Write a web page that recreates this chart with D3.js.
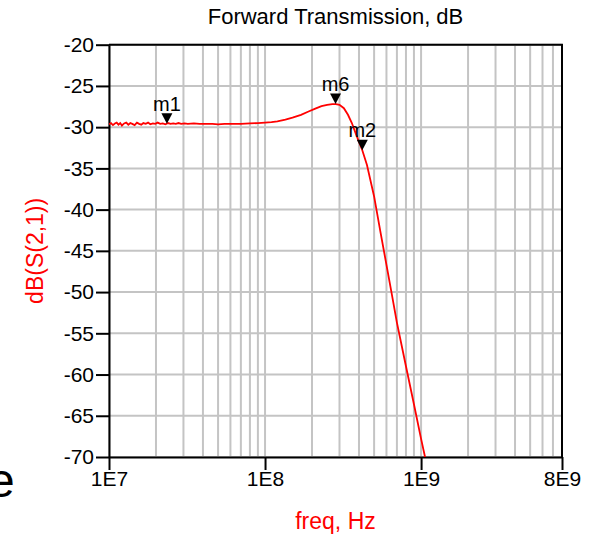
<!DOCTYPE html>
<html>
<head>
<meta charset="utf-8">
<script src="https://cdn.jsdelivr.net/npm/d3@7"></script>
<style>
  body { margin: 0; background: #fff; }
  svg { display: block; font-family: Arial, "Liberation Sans", sans-serif; }
  .grid line { stroke: #c4c4c4; stroke-width: 2; }
  .axis path, .axis line { stroke: #000; stroke-width: 2; }
  .axis text { fill: #000; font-size: 21px; }
</style>
</head>
<body>
<div id="chart"></div>
<script>
// S21 trace
const freqHz = [
  1.00e7, 1.03e7, 1.06e7, 1.09e7, 1.12e7, 1.15e7, 1.18e7, 1.21e7, 1.25e7, 1.29e7,
  1.33e7, 1.37e7, 1.41e7, 1.46e7, 1.51e7, 1.56e7, 1.61e7, 1.66e7, 1.72e7, 1.78e7,
  1.84e7, 1.91e7, 1.98e7, 2.05e7, 2.13e7, 2.21e7, 2.30e7, 2.39e7, 2.48e7, 2.58e7,
  2.68e7, 2.79e7, 2.90e7, 3.05e7, 3.20e7, 3.50e7, 3.80e7, 4.20e7, 4.60e7, 5.00e7,
  5.50e7, 6.00e7, 7.00e7, 8.00e7, 9.00e7, 1.00e8, 1.10e8, 1.20e8, 1.35e8, 1.50e8,
  1.70e8, 1.90e8, 2.10e8, 2.30e8, 2.50e8, 2.70e8, 2.85e8, 3.00e8, 3.20e8, 3.40e8,
  3.60e8, 3.80e8, 4.00e8, 4.20e8, 4.50e8, 5.00e8, 5.50e8, 6.00e8, 6.50e8, 7.00e8,
  8.00e8, 9.00e8, 1.00e9, 1.06e9, 1.10e9
];
const s21dB = [
  -29.65, -29.5, -29.75, -29.55, -29.45, -29.7, -29.5, -29.8, -29.55, -29.45,
  -29.7, -29.5, -29.6, -29.75, -29.45, -29.6, -29.7, -29.5, -29.6, -29.45,
  -29.65, -29.55, -29.6, -29.45, -29.6, -29.55, -29.65, -29.5, -29.6, -29.55,
  -29.6, -29.5, -29.6, -29.55, -29.6, -29.55, -29.6, -29.6, -29.6, -29.65,
  -29.6, -29.6, -29.6, -29.55, -29.5, -29.45, -29.4, -29.3, -29.1, -28.85,
  -28.5, -28.1, -27.75, -27.45, -27.3, -27.2, -27.2, -27.3, -27.7, -28.5,
  -29.5, -30.7, -31.8, -32.8, -34.6, -38.4, -42.8, -46.7, -50.3, -53.7,
  -59.0, -63.6, -67.8, -70.0, -71.5
];

const markerNames = ["m1", "m6", "m2"];
const markerFreq = [2.35e7, 2.83e8, 4.2e8];
const markerDb = [-29.6, -27.2, -32.8];

const yTicks = [-20, -25, -30, -35, -40, -45, -50, -55, -60, -65, -70];
const xTickVals = [1e7, 1e8, 1e9, 8e9];
const xTickLabels = ["1E7", "1E8", "1E9", "8E9"];

let margin = { top: 44.7, left: 109, right: 31, bottom: 77 },
  width = 593 - margin.left - margin.right,
  height = 534 - margin.top - margin.bottom;

let svg = d3.select("#chart")
  .append("svg")
  .attr("width", 593)
  .attr("height", 534);

// stray slide letter at the left edge
svg.append("text")
  .attr("x", -12)
  .attr("y", 497)
  .style("font-size", "48px")
  .text("e");

let g = svg.append("g")
  .attr("transform", "translate(" + margin.left + "," + margin.top + ")");

let xScale = d3.scaleLog()
  .domain([1e7, 8e9])
  .range([0, width]);

let yScale = d3.scaleLinear()
  .domain([-70, -20])
  .range([height, 0]);

// grid
g.append("g")
  .attr("class", "grid")
  .selectAll("line")
  .data(xScale.ticks())
  .join("line")
  .attr("x1", d => xScale(d))
  .attr("x2", d => xScale(d))
  .attr("y1", 0)
  .attr("y2", height);

g.append("g")
  .attr("class", "grid")
  .selectAll("line")
  .data(yTicks)
  .join("line")
  .attr("x1", 0)
  .attr("x2", width)
  .attr("y1", d => yScale(d))
  .attr("y2", d => yScale(d));

// frame (top and right)
g.append("path")
  .attr("d", "M0,0H" + width + "V" + height)
  .attr("fill", "none")
  .attr("stroke", "#000")
  .attr("stroke-width", 2);

let yAxis = g.append("g")
  .attr("class", "axis")
  .call(d3.axisLeft(yScale)
    .tickValues(yTicks)
    .tickSize(13)
    .tickSizeOuter(0)
    .tickPadding(2)
    .tickFormat(d => d));

let xAxis = g.append("g")
  .attr("class", "axis")
  .attr("transform", "translate(0," + height + ")")
  .call(d3.axisBottom(xScale)
    .tickValues(xTickVals)
    .tickSize(13)
    .tickSizeOuter(0)
    .tickPadding(1)
    .tickFormat((d, i) => xTickLabels[i]));

// trace
g.append("clipPath")
  .attr("id", "plotClip")
  .append("rect")
  .attr("width", width)
  .attr("height", height);

let line = d3.line()
  .x((d, i) => xScale(freqHz[i]))
  .y(d => yScale(d));

g.append("path")
  .datum(s21dB)
  .attr("clip-path", "url(#plotClip)")
  .attr("fill", "none")
  .attr("stroke", "#ff0000")
  .attr("stroke-width", 1.8)
  .attr("d", line);

// markers
let markers = g.append("g")
  .selectAll("g")
  .data(markerNames)
  .join("g")
  .attr("transform", (d, i) => "translate(" + xScale(markerFreq[i]) + "," + yScale(markerDb[i]) + ")");

markers.append("path")
  .attr("d", "M0,0L-5.5,-10.5L5.5,-10.5Z")
  .attr("fill", "#000");

markers.append("text")
  .attr("y", -13)
  .attr("text-anchor", "middle")
  .style("font-size", "20px")
  .text(d => d);

// labels
svg.append("text")
  .attr("x", margin.left + width / 2)
  .attr("y", 24)
  .attr("text-anchor", "middle")
  .style("font-size", "22px")
  .text("Forward Transmission, dB");

svg.append("text")
  .attr("transform", "translate(43," + (margin.top + height / 2) + ") rotate(-90)")
  .attr("text-anchor", "middle")
  .attr("fill", "#ff0000")
  .style("font-size", "23px")
  .text("dB(S(2,1))");

svg.append("text")
  .attr("x", margin.left + width / 2)
  .attr("y", 529)
  .attr("text-anchor", "middle")
  .attr("fill", "#ff0000")
  .style("font-size", "23px")
  .text("freq, Hz");
</script>
</body>
</html>
